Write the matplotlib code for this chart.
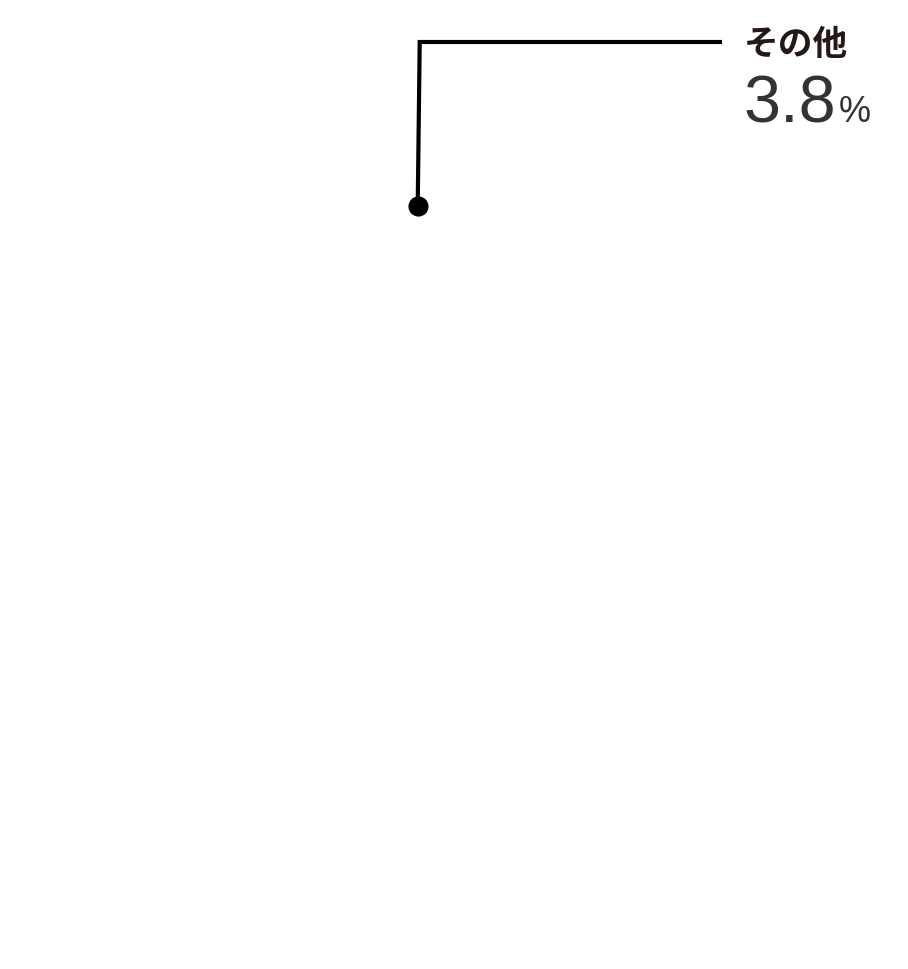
import matplotlib
matplotlib.use("Agg")
import matplotlib.pyplot as plt
import numpy as np

plt.rcParams['font.family'] = ['Noto Sans CJK JP', 'DejaVu Sans']

# data
categories = ["その他", "その他以外"]
shares = [3.8, 96.2]
value_label = "3.8"
unit_label = "%"

W, H = 908, 969
fig = plt.figure(figsize=(W / 100, H / 100), dpi=100)
fig.patch.set_facecolor("white")
ax = fig.add_axes([0, 0, 1, 1])

center = (460, 411)
radius = 355
start = 90
wedges, _ = ax.pie(shares, colors=["white", "white"], startangle=start,
                   counterclock=True, center=center, radius=radius,
                   wedgeprops=dict(linewidth=0), frame=True)
ax.set_xlim(0, W)
ax.set_ylim(0, H)
ax.set_aspect("equal")
ax.axis("off")

# annotation point on the edge of the "その他" wedge
w = wedges[0]
mid = np.deg2rad((w.theta1 + w.theta2) / 2)
px = center[0] + radius * np.cos(mid)
py = center[1] + radius * np.sin(mid)

elbow_y = H - 42
end_x = 722
ax.plot([px, px + 2, end_x], [py, elbow_y, elbow_y], color="black", lw=3,
        solid_joinstyle="miter", solid_capstyle="butt", zorder=5)
ax.plot([px], [py], "o", color="black", ms=13.5, zorder=6)

ax.text(744, H - 55, categories[0], fontsize=25, fontweight="bold",
        color="#231815", ha="left", va="baseline",
        family=["Noto Sans CJK JP", "DejaVu Sans"])
t = ax.text(743, H - 122, value_label, fontsize=48, color="#333333",
            ha="left", va="baseline", fontweight="normal",
            family=["Liberation Sans", "DejaVu Sans"])
fig.canvas.draw()
bb = t.get_window_extent()
ax.text(bb.x1 + 3, H - 122, unit_label, fontsize=26, color="#333333",
        ha="left", va="baseline",
        family=["Liberation Sans", "DejaVu Sans"])

fig.savefig("out.png", dpi=100, facecolor="white")
